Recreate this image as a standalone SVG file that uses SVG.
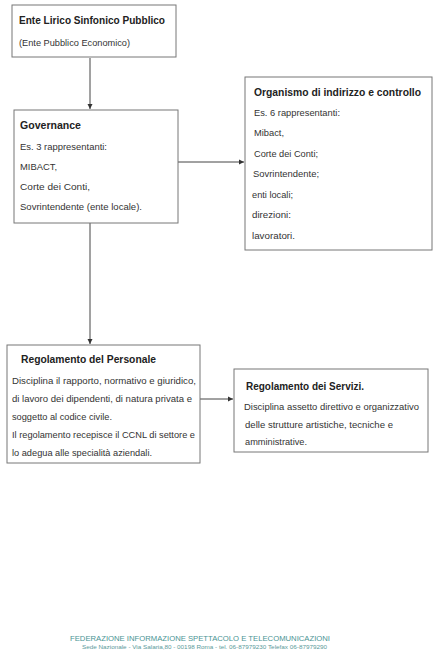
<svg xmlns="http://www.w3.org/2000/svg" width="437" height="654" viewBox="0 0 437 654">
<defs>
<marker id="ah" markerWidth="6" markerHeight="6" refX="5" refY="3" orient="auto" markerUnits="userSpaceOnUse">
<path d="M0,0.5 L5,3 L0,5.5 Z" fill="#333"/>
</marker>
<style>
.box{fill:#fff;stroke:#777;stroke-width:1}
.t{font-family:"Liberation Sans",Arial,sans-serif;font-size:10.5px;font-weight:bold;fill:#222}
.b{font-family:"Liberation Sans",Arial,sans-serif;font-size:8.6px;fill:#333}
.c{stroke:#444;stroke-width:1;fill:none;marker-end:url(#ah)}
.f1{font-family:"Liberation Sans",Arial,sans-serif;font-size:8px;fill:#4a9494}
.f2{font-family:"Liberation Sans",Arial,sans-serif;font-size:5px;fill:#5a9a9a}
</style>
</defs>
<rect width="437" height="654" fill="#fff"/>
<g id="connectors">
<line class="c" x1="90" y1="58" x2="90" y2="109"/>
<line class="c" x1="178" y1="162" x2="244" y2="162"/>
<line class="c" x1="90" y1="223" x2="90" y2="344"/>
<line class="c" x1="200" y1="399" x2="233" y2="399"/>
</g>
<g id="ente">
<rect class="box" x="12" y="5" width="164" height="52"/>
<text class="t" x="19" y="24" textLength="146" lengthAdjust="spacingAndGlyphs">Ente Lirico Sinfonico Pubblico</text>
<text class="b" x="19" y="46" textLength="111" lengthAdjust="spacingAndGlyphs">(Ente Pubblico Economico)</text>
</g>
<g id="governance">
<rect class="box" x="14" y="110" width="164" height="113"/>
<text class="t" x="20" y="129" textLength="61" lengthAdjust="spacingAndGlyphs">Governance</text>
<text class="b" x="20" y="150" textLength="87" lengthAdjust="spacingAndGlyphs">Es. 3 rappresentanti:</text>
<text class="b" x="20" y="170" textLength="37" lengthAdjust="spacingAndGlyphs">MIBACT,</text>
<text class="b" x="20" y="190" textLength="70" lengthAdjust="spacingAndGlyphs">Corte dei Conti,</text>
<text class="b" x="20" y="210" textLength="122" lengthAdjust="spacingAndGlyphs">Sovrintendente (ente locale).</text>
</g>
<g id="organismo">
<rect class="box" x="245" y="77" width="187" height="173"/>
<text class="t" x="254" y="96" textLength="167" lengthAdjust="spacingAndGlyphs">Organismo di indirizzo e controllo</text>
<text class="b" x="254" y="116" textLength="86" lengthAdjust="spacingAndGlyphs">Es. 6 rappresentanti:</text>
<text class="b" x="254" y="136" textLength="30" lengthAdjust="spacingAndGlyphs">Mibact,</text>
<text class="b" x="254" y="157" textLength="64" lengthAdjust="spacingAndGlyphs">Corte dei Conti;</text>
<text class="b" x="253" y="177" textLength="66" lengthAdjust="spacingAndGlyphs">Sovrintendente;</text>
<text class="b" x="252" y="198" textLength="41" lengthAdjust="spacingAndGlyphs">enti locali;</text>
<text class="b" x="252" y="218" textLength="39" lengthAdjust="spacingAndGlyphs">direzioni:</text>
<text class="b" x="252" y="239" textLength="43" lengthAdjust="spacingAndGlyphs">lavoratori.</text>
</g>
<g id="personale">
<rect class="box" x="7" y="345" width="193" height="118"/>
<text class="t" x="21" y="363" textLength="135" lengthAdjust="spacingAndGlyphs">Regolamento del Personale</text>
<text class="b" x="12" y="384" textLength="184" lengthAdjust="spacingAndGlyphs">Disciplina il rapporto, normativo e giuridico,</text>
<text class="b" x="12" y="402" textLength="180" lengthAdjust="spacingAndGlyphs">di lavoro dei dipendenti, di natura privata e</text>
<text class="b" x="12" y="420" textLength="100" lengthAdjust="spacingAndGlyphs">soggetto al codice civile.</text>
<text class="b" x="12" y="438" textLength="183" lengthAdjust="spacingAndGlyphs">Il regolamento recepisce il CCNL di settore e</text>
<text class="b" x="12" y="456" textLength="140" lengthAdjust="spacingAndGlyphs">lo adegua alle specialità aziendali.</text>
</g>
<g id="servizi">
<rect class="box" x="234" y="369" width="194" height="83"/>
<text class="t" x="246" y="390" textLength="118" lengthAdjust="spacingAndGlyphs">Regolamento dei Servizi.</text>
<text class="b" x="244" y="410" textLength="175" lengthAdjust="spacingAndGlyphs">Disciplina assetto direttivo e organizzativo</text>
<text class="b" x="245" y="428" textLength="148" lengthAdjust="spacingAndGlyphs">delle strutture artistiche, tecniche e</text>
<text class="b" x="245" y="445" textLength="62" lengthAdjust="spacingAndGlyphs">amministrative.</text>
</g>
<g id="footer">
<text class="f1" x="70" y="641" textLength="260" lengthAdjust="spacingAndGlyphs">FEDERAZIONE INFORMAZIONE SPETTACOLO E TELECOMUNICAZIONI</text>
<text class="f2" x="82" y="649" textLength="245" lengthAdjust="spacingAndGlyphs">Sede Nazionale  - Via Salaria,80 - 00198 Roma  -  tel. 06-87979230  Telefax  06-87979290</text>
</g>
</svg>
